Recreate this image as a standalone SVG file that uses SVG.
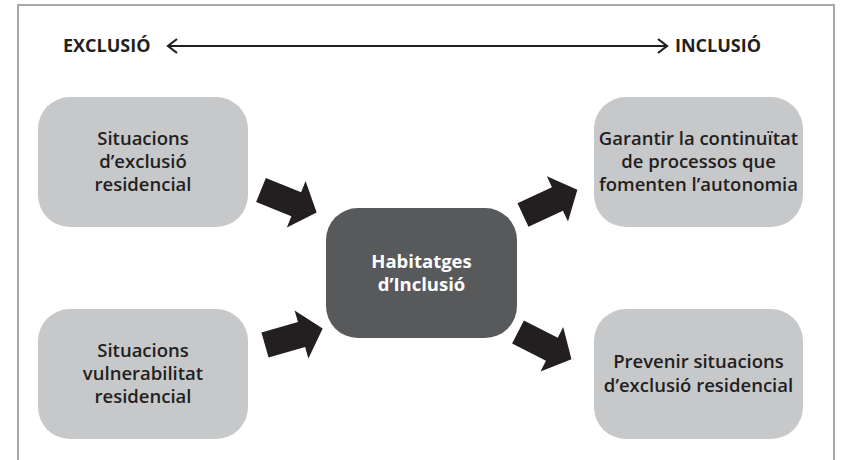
<svg xmlns="http://www.w3.org/2000/svg" width="843" height="460" viewBox="0 0 843 460">
<style>
.frame{fill:none;stroke:#a7a9ac;stroke-width:2}
.box{fill:#c7c8ca}
.hub{fill:#58595b}
.t{font-family:"Open Sans","Noto Sans",sans-serif;font-size:18.5px;font-weight:600;fill:#231f20;text-anchor:middle}
.tw{fill:#ffffff;font-weight:700}
.hd{font-family:"Open Sans","Noto Sans",sans-serif;font-size:18px;font-weight:700;fill:#231f20}
.blk{fill:#231f20}
.ax{fill:none;stroke:#231f20;stroke-width:2.2}
</style>
<defs>
<path id="barrow" d="M0,-13 L38,-13 L38,-25 L60,0 L38,25 L38,13 L0,13 Z"/>
</defs>
<rect width="843" height="460" fill="#ffffff"/>
<path class="frame" d="M18,462 V5 H834 V462"/>
<g id="header">
<text class="hd" x="63" y="52">EXCLUSIÓ</text>
<text class="hd" x="675" y="52">INCLUSIÓ</text>
</g>
<g id="connectors">
<path class="ax" d="M168,46 H667 M177,39 L168,46 L177,53 M658,39 L667,46 L658,53"/>
<use href="#barrow" class="blk" transform="translate(261,190) rotate(22)"/>
<use href="#barrow" class="blk" transform="translate(265,345) rotate(-16)"/>
<use href="#barrow" class="blk" transform="translate(523,215) rotate(-25)"/>
<use href="#barrow" class="blk" transform="translate(518,332) rotate(27)"/>
</g>
<g id="n1">
<rect class="box" x="38" y="97" width="210" height="130" rx="32"/>
<text class="t" x="143" y="145">Situacions</text>
<text class="t" x="143" y="168">d’exclusió</text>
<text class="t" x="143" y="191">residencial</text>
</g>
<g id="n2">
<rect class="box" x="38" y="309" width="210" height="130" rx="32"/>
<text class="t" x="143" y="357">Situacions</text>
<text class="t" x="143" y="380">vulnerabilitat</text>
<text class="t" x="143" y="403">residencial</text>
</g>
<g id="hub">
<rect class="hub" x="326" y="208" width="191" height="130" rx="32"/>
<text class="t tw" x="421.5" y="268">Habitatges</text>
<text class="t tw" x="421.5" y="291">d’Inclusió</text>
</g>
<g id="n3">
<rect class="box" x="594" y="97" width="209" height="130" rx="32"/>
<text class="t" x="698.5" y="145">Garantir la continuïtat</text>
<text class="t" x="698.5" y="168">de processos que</text>
<text class="t" x="698.5" y="191">fomenten l’autonomia</text>
</g>
<g id="n4">
<rect class="box" x="594" y="309" width="209" height="130" rx="32"/>
<text class="t" x="698.5" y="368">Prevenir situacions</text>
<text class="t" x="698.5" y="392">d’exclusió residencial</text>
</g>
</svg>
